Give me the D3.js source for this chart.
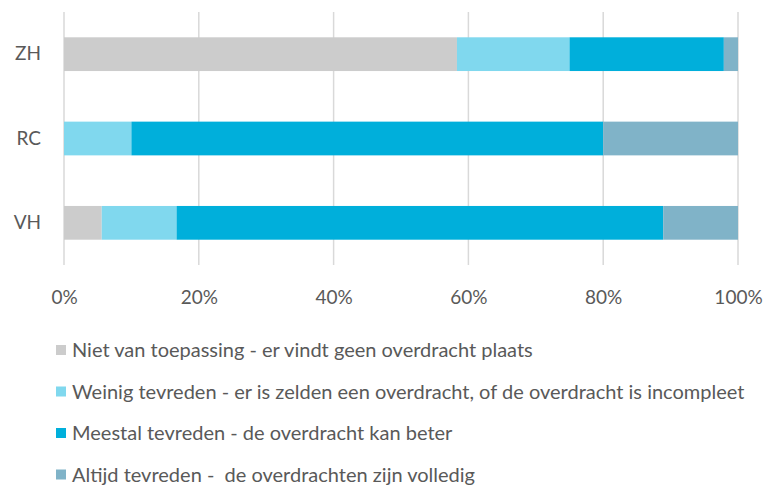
<!DOCTYPE html>
<html>
<head>
<meta charset="utf-8">
<script src="https://cdn.jsdelivr.net/npm/d3@7"></script>
<style>
  html, body { margin: 0; padding: 0; background: #fff; }
  svg { display: block; font-family: Lato, "Open Sans", sans-serif; }
</style>
</head>
<body>
<svg id="chart" width="767" height="487"></svg>
<script>
'use strict';

var categories = ['ZH', 'RC', 'VH'];
var seriesNames = [
    'Niet van toepassing - er vindt geen overdracht plaats',
    'Weinig tevreden - er is zelden een overdracht, of de overdracht is incompleet',
    'Meestal tevreden - de overdracht kan beter',
    'Altijd tevreden -  de overdrachten zijn volledig'
];
var nietVanToepassing = [58.3, 0, 5.6];
var weinigTevreden    = [16.7, 10, 11.1];
var meestalTevreden   = [22.9, 70, 72.2];
var altijdTevreden    = [2.1, 20, 11.1];
var tickValues = [0, 20, 40, 60, 80, 100];

var colors = ['#cccccc', '#80d8ee', '#00afdb', '#80b3c8'];

var rows = categories.map(function(c, i) {
    return {
        cat: c,
        s0: nietVanToepassing[i],
        s1: weinigTevreden[i],
        s2: meestalTevreden[i],
        s3: altijdTevreden[i]
    };
});

var svg = d3.select('#chart');

var xScale = d3.scaleLinear().domain([0, 100]).range([64, 738]);
var yScale = d3.scaleBand().domain(categories).range([12, 265]).paddingInner(0.6).paddingOuter(0.3);

// gridlines
svg.append('g')
    .selectAll('line')
    .data(tickValues)
    .enter()
    .append('line')
    .attr('x1', function(d) { return xScale(d); })
    .attr('x2', function(d) { return xScale(d); })
    .attr('y1', 12)
    .attr('y2', 265)
    .attr('stroke', '#d9d9d9')
    .attr('stroke-width', 1.5);

var stack = d3.stack().keys(['s0', 's1', 's2', 's3']);
var layers = stack(rows);

svg.append('g')
    .selectAll('g')
    .data(layers)
    .enter()
    .append('g')
    .attr('fill', function(d, i) { return colors[i]; })
    .selectAll('rect')
    .data(function(d) { return d; })
    .enter()
    .append('rect')
    .attr('x', function(d) { return xScale(d[0]); })
    .attr('width', function(d) { return xScale(d[1]) - xScale(d[0]); })
    .attr('y', function(d) { return yScale(d.data.cat); })
    .attr('height', yScale.bandwidth());

// x axis labels
var xAxis = d3.axisBottom(xScale)
    .tickValues(tickValues)
    .tickSize(0)
    .tickPadding(0)
    .tickFormat(function(d) { return d + '%'; });

svg.append('g')
    .attr('transform', 'translate(0, 297)')
    .call(xAxis)
    .call(function(g) { g.select('.domain').remove(); })
    .selectAll('text')
    .attr('dy', '0.35em')
    .attr('fill', '#595959')
    .style('font-family', 'Lato, "Open Sans", sans-serif')
    .style('font-size', '19px');

// y axis labels
var yAxis = d3.axisLeft(yScale).tickSize(0).tickPadding(23);
svg.append('g')
    .attr('transform', 'translate(64, 0)')
    .call(yAxis)
    .call(function(g) { g.select('.domain').remove(); })
    .selectAll('text')
    .attr('fill', '#595959')
    .style('font-family', 'Lato, "Open Sans", sans-serif')
    .style('font-size', '19px');

// legend
var legend = svg.append('g')
    .selectAll('g')
    .data(seriesNames)
    .enter()
    .append('g')
    .attr('transform', function(d, i) { return 'translate(56, ' + (350 + i * 41.5) + ')'; });

legend.append('rect')
    .attr('x', 0)
    .attr('y', -5)
    .attr('width', 10)
    .attr('height', 10)
    .attr('fill', function(d, i) { return colors[i]; });

legend.append('text')
    .attr('x', 16)
    .attr('dy', '0.35em')
    .attr('fill', '#595959')
    .style('font-size', '20px')
    .style('white-space', 'pre')
    .text(function(d) { return d; });
</script>
</body>
</html>
